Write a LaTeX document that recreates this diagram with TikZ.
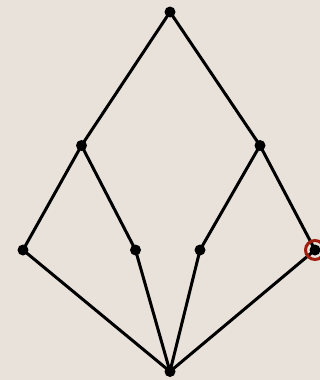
\documentclass[tikz,border=0pt]{standalone}
\definecolor{bgc}{RGB}{232,226,218}
\definecolor{ringc}{RGB}{160,30,15}
\begin{document}
\begin{tikzpicture}[x=1pt,y=-1pt,
  vtx/.style={circle,fill=black,inner sep=0pt,minimum size=11pt},
  edge/.style={line width=3pt,black}]
\fill[bgc] (0,0) rectangle (320,380);
\useasboundingbox (0,0) rectangle (320,380);
\node[vtx] (t) at (170,12) {};
\node[vtx] (l) at (81.5,145.5) {};
\node[vtx] (r) at (260,145.5) {};
\node[vtx] (a) at (23,250) {};
\node[vtx] (b) at (135.5,250) {};
\node[vtx] (c) at (200,250) {};
\node[vtx] (d) at (315,250) {};
\node[vtx] (o) at (170,371.5) {};
\draw[edge] (t.center) -- (l.center);
\draw[edge] (t.center) -- (r.center);
\draw[edge] (l.center) -- (a.center);
\draw[edge] (l.center) -- (b.center);
\draw[edge] (r.center) -- (c.center);
\draw[edge] (r.center) -- (d.center);
\draw[edge] (a.center) -- (o.center);
\draw[edge] (b.center) -- (o.center);
\draw[edge] (c.center) -- (o.center);
\draw[edge] (d.center) -- (o.center);
\node[circle,draw=ringc,line width=3pt,inner sep=0pt,minimum size=19pt] (ring) at (d) {};
\end{tikzpicture}
\end{document}
